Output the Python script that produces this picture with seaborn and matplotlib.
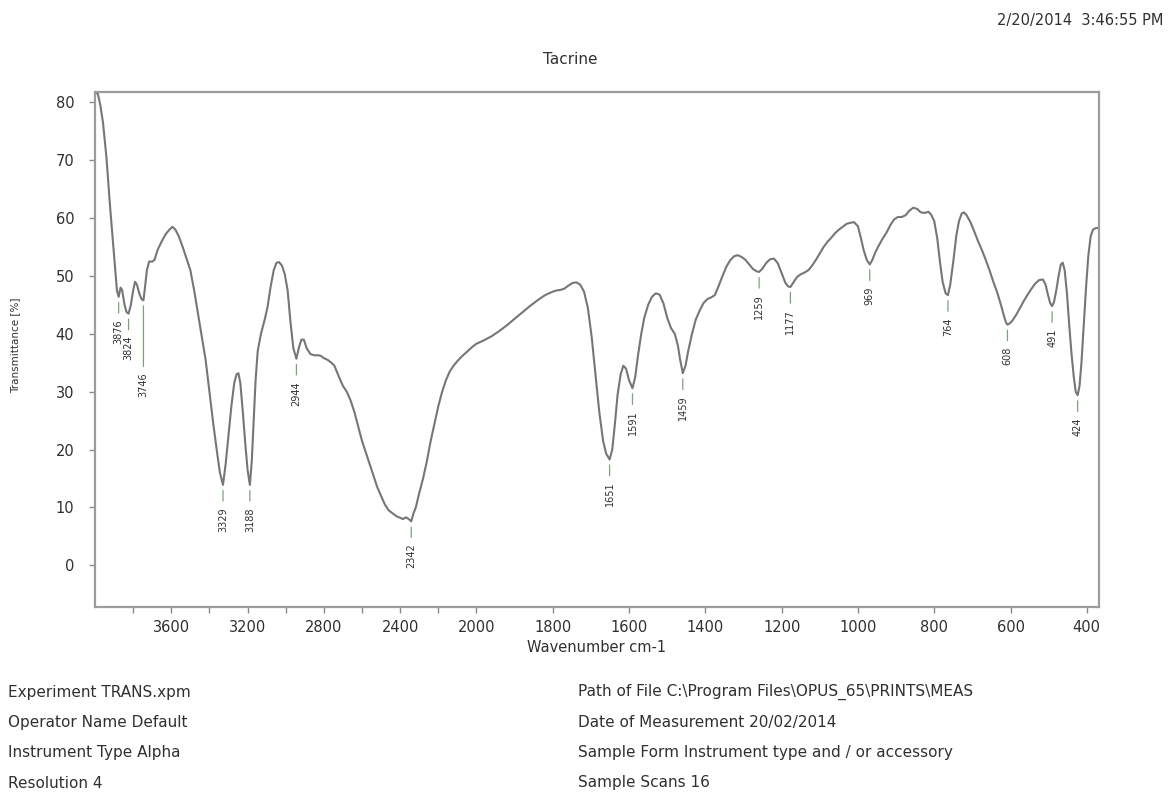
import numpy as np
import pandas as pd
import matplotlib
matplotlib.use("Agg")
import matplotlib.pyplot as plt
import seaborn as sns

# IR transmittance spectrum of tacrine (wavenumber in cm-1, transmittance in %)
wavenumber = [
    4000, 3995, 3985, 3972, 3958, 3940, 3921, 3905, 3895, 3885, 3876, 3866, 3858,
    3845, 3835, 3824, 3812, 3800, 3790, 3780, 3768, 3756, 3746, 3738, 3728, 3716,
    3700, 3688, 3672, 3650, 3630, 3610, 3594, 3578, 3560, 3540, 3520, 3500, 3480,
    3460, 3440, 3420, 3400, 3380, 3360, 3345, 3329, 3315, 3300, 3285, 3270, 3258,
    3248, 3238, 3225, 3212, 3200, 3188, 3178, 3168, 3158, 3147, 3130, 3110, 3095,
    3080, 3063, 3048, 3035, 3020, 3005, 2990, 2975, 2960, 2944, 2932, 2918, 2905,
    2890, 2870, 2850, 2830, 2816, 2800, 2780, 2760, 2745, 2720, 2700, 2680, 2660,
    2640, 2620, 2600, 2580, 2560, 2540, 2520, 2500, 2480, 2460, 2440, 2420, 2400,
    2385, 2370, 2355, 2342, 2330, 2318, 2300, 2280, 2260, 2240, 2220, 2200, 2180,
    2160, 2140, 2120, 2100, 2080, 2060, 2040, 2020, 2000, 1980, 1960, 1940, 1920,
    1900, 1880, 1860, 1840, 1820, 1800, 1790, 1780, 1770, 1760, 1748, 1738, 1728,
    1718, 1708, 1698, 1688, 1678, 1668, 1660, 1651, 1644, 1637, 1630, 1622, 1615,
    1608, 1600, 1591, 1584, 1576, 1568, 1560, 1550, 1540, 1530, 1520, 1510, 1500,
    1490, 1480, 1472, 1466, 1459, 1452, 1445, 1435, 1425, 1415, 1405, 1395, 1385,
    1375, 1365, 1355, 1345, 1335, 1325, 1315, 1305, 1295, 1285, 1275, 1265, 1259,
    1250, 1240, 1230, 1220, 1210, 1200, 1190, 1183, 1177, 1170, 1160, 1150, 1140,
    1130, 1120, 1110, 1100, 1090, 1080, 1070, 1060, 1050, 1040, 1030, 1020, 1010,
    1000, 992, 985, 977, 969, 962, 955, 945, 935, 925, 915, 905, 895, 885, 875,
    865, 855, 845, 835, 825, 815, 808, 800, 792, 785, 778, 770, 764, 758, 750,
    742, 735, 728, 722, 715, 705, 695, 685, 675, 665, 655, 645, 635, 625, 618,
    612, 608, 602, 595, 585, 575, 565, 555, 545, 535, 525, 515, 508, 502, 496,
    491, 486, 480, 474, 468, 463, 458, 452, 446, 440, 434, 429, 424, 419, 414,
    408, 402, 396, 390, 384, 376, 368,
]
transmittance = [
    81.6, 81.6, 81.5, 79.5, 76.5, 70.5, 62.0, 55.5, 51.5, 47.5, 46.4, 48.0, 47.6,
    45.0, 43.8, 43.5, 45.0, 47.5, 49.0, 48.5, 47.0, 46.0, 45.8, 48.0, 51.0, 52.5,
    52.5, 52.8, 54.5, 56.0, 57.2, 58.0, 58.5, 58.0, 56.8, 55.0, 53.0, 51.0, 47.5,
    43.5, 39.5, 35.5, 30.0, 24.5, 19.5, 16.0, 13.9, 17.5, 22.5, 27.5, 31.5, 33.0,
    33.2, 31.5, 26.5, 21.0, 16.5, 13.9, 18.0, 25.0, 32.0, 37.0, 40.0, 42.5, 44.7,
    48.0, 51.0, 52.3, 52.4, 51.8, 50.3, 47.5, 42.0, 37.5, 35.7, 37.5, 39.0, 39.0,
    37.5, 36.5, 36.3, 36.3, 36.2, 35.8, 35.5, 35.0, 34.5, 32.5, 31.0, 30.0, 28.5,
    26.5, 24.0, 21.5, 19.5, 17.5, 15.5, 13.5, 12.0, 10.5, 9.5, 9.0, 8.5, 8.2,
    8.0, 8.3, 8.0, 7.6, 9.0, 10.0, 12.5, 15.0, 18.0, 21.5, 24.5, 27.5, 30.0,
    32.0, 33.5, 34.5, 35.3, 36.0, 36.6, 37.2, 37.8, 38.3, 38.9, 39.6, 40.5, 41.5,
    42.6, 43.7, 44.8, 45.8, 46.7, 47.3, 47.5, 47.6, 47.8, 48.3, 48.8, 48.9, 48.5,
    47.3, 44.5, 39.5, 33.0, 26.5, 21.5, 19.3, 18.3, 20.0, 24.5, 29.5, 33.0, 34.5,
    34.0, 32.0, 30.6, 32.5, 36.5, 40.0, 42.8, 45.0, 46.4, 47.0, 46.8, 45.3, 42.8,
    41.0, 40.0, 38.0, 35.5, 33.2, 34.5, 37.0, 40.0, 42.5, 44.0, 45.3, 46.0, 46.3,
    46.7, 48.3, 50.0, 51.6, 52.7, 53.4, 53.6, 53.3, 52.8, 52.0, 51.2, 50.8, 50.7,
    51.3, 52.3, 52.9, 53.0, 52.2, 50.5, 48.8, 48.2, 48.1, 48.8, 49.8, 50.3, 50.6,
    51.0, 51.8, 52.8, 53.9, 55.0, 55.9, 56.6, 57.4, 58.0, 58.5, 59.0, 59.2, 59.3,
    58.6, 56.5, 54.5, 52.8, 52.0, 52.8, 54.0, 55.3, 56.5, 57.5, 58.8, 59.8, 60.2,
    60.2, 60.5, 61.3, 61.8, 61.6, 61.0, 60.9, 61.1, 60.6, 59.5, 56.5, 52.5, 49.0,
    47.0, 46.7, 48.5, 52.5, 57.0, 59.5, 60.8, 61.0, 60.5, 59.3, 57.7, 56.0, 54.5,
    52.8, 51.0, 49.0, 47.2, 45.0, 43.3, 42.0, 41.6, 41.8, 42.3, 43.3, 44.5, 45.7,
    46.8, 47.8, 48.7, 49.3, 49.4, 48.5, 46.8, 45.3, 44.8, 45.5, 47.5, 50.0, 52.0,
    52.3, 51.0, 47.0, 41.5, 36.5, 32.5, 30.0, 29.4, 31.0, 35.0, 41.5, 48.0, 53.5,
    56.8, 58.0, 58.3, 58.3,
]

# Picked band minima
peak_positions = [3876, 3824, 3746, 3329, 3188, 2944, 2342, 1651, 1591, 1459,
                  1259, 1177, 969, 764, 608, 491, 424]

x_major_ticks = [3600, 3200, 2800, 2400, 2000, 1800, 1600, 1400, 1200, 1000, 800, 600, 400]
x_minor_ticks = [3800, 3400, 3000, 2600, 2200]
y_ticks = [0, 10, 20, 30, 40, 50, 60, 70, 80]

title = "Tacrine"
timestamp = "2/20/2014  3:46:55 PM"
info_left = ["Experiment TRANS.xpm", "Operator Name Default",
             "Instrument Type Alpha", "Resolution 4"]
info_right = ["Path of File C:\\Program Files\\OPUS_65\\PRINTS\\MEAS",
              "Date of Measurement 20/02/2014",
              "Sample Form Instrument type and / or accessory",
              "Sample Scans 16"]

sns.set_style("white")
plt.rcParams["font.family"] = ["DejaVu Sans"]

TEXT = "#303030"
LINE = "#767676"
FRAME = "#9c9c9c"

W, H = 1168, 794
fig = plt.figure(figsize=(W / 100, H / 100), dpi=100)
ax = fig.add_axes([95 / W, 1 - 607 / H, (1099 - 95) / W, (607 - 92) / H])


# Region above 2000 cm-1 is drawn at half scale
def compress(w):
    w = np.asarray(w, dtype=float)
    return np.where(w > 2000, 2000 + (w - 2000) / 2.0, w)


def expand(u):
    u = np.asarray(u, dtype=float)
    return np.where(u > 2000, 2000 + (u - 2000) * 2.0, u)


ax.set_xscale("function", functions=(compress, expand))

df = pd.DataFrame({"wavenumber": wavenumber, "transmittance": transmittance})
sns.lineplot(data=df, x="wavenumber", y="transmittance", ax=ax,
             color=LINE, linewidth=1.5, estimator=None, sort=False)

ax.set_xlim(4000, 368)
ax.set_ylim(-7.2, 81.8)

ax.set_xticks(x_major_ticks, labels=[str(t) for t in x_major_ticks])
ax.set_xticks(x_minor_ticks, minor=True)
ax.set_xticklabels([], minor=True)
ax.set_yticks(y_ticks, labels=[str(t) for t in y_ticks])

ax.tick_params(axis="both", which="both", direction="out", bottom=True, left=True,
               length=4, width=1.0, color="#8a8a8a", labelcolor=TEXT, labelsize=10.5)
ax.tick_params(axis="x", pad=5)
ax.tick_params(axis="y", pad=11)

for s in ax.spines.values():
    s.set_color(FRAME)
    s.set_linewidth(1.6)

ax.set_xlabel("Wavenumber cm-1", fontsize=10.5, color=TEXT)
ax.xaxis.set_label_coords(0.5, -0.064)
ax.set_ylabel("Transmittance [%]", fontsize=7.5, color=TEXT)
ax.yaxis.set_label_coords(-0.0747, 0.509)

# Peak labels below each band minimum
lookup = dict(zip(wavenumber, transmittance))
for w in peak_positions:
    t = lookup[w]
    drop = 52 if w == 3746 else 16
    ax.annotate(str(w), xy=(w, t), xytext=(0, -drop), textcoords="offset points",
                rotation=90, ha="center", va="top", fontsize=7, color=TEXT,
                arrowprops=dict(arrowstyle="-", color="#7fa07f", lw=0.9,
                                shrinkA=2, shrinkB=4, relpos=(0.5, 1)))

fig.text(570 / W, 1 - 60 / H, title, ha="center", va="center", fontsize=11, color=TEXT)
fig.text(1163 / W, 1 - 20 / H, timestamp, ha="right", va="center", fontsize=10.5, color=TEXT)

rows_y = [692, 722, 752, 783]
for y, txt in zip(rows_y, info_left):
    fig.text(8 / W, 1 - y / H, txt, ha="left", va="center", fontsize=11, color=TEXT)
for y, txt in zip(rows_y, info_right):
    fig.text(578 / W, 1 - y / H, txt, ha="left", va="center", fontsize=11, color=TEXT)

fig.savefig("out.png", dpi=100, facecolor="white")
